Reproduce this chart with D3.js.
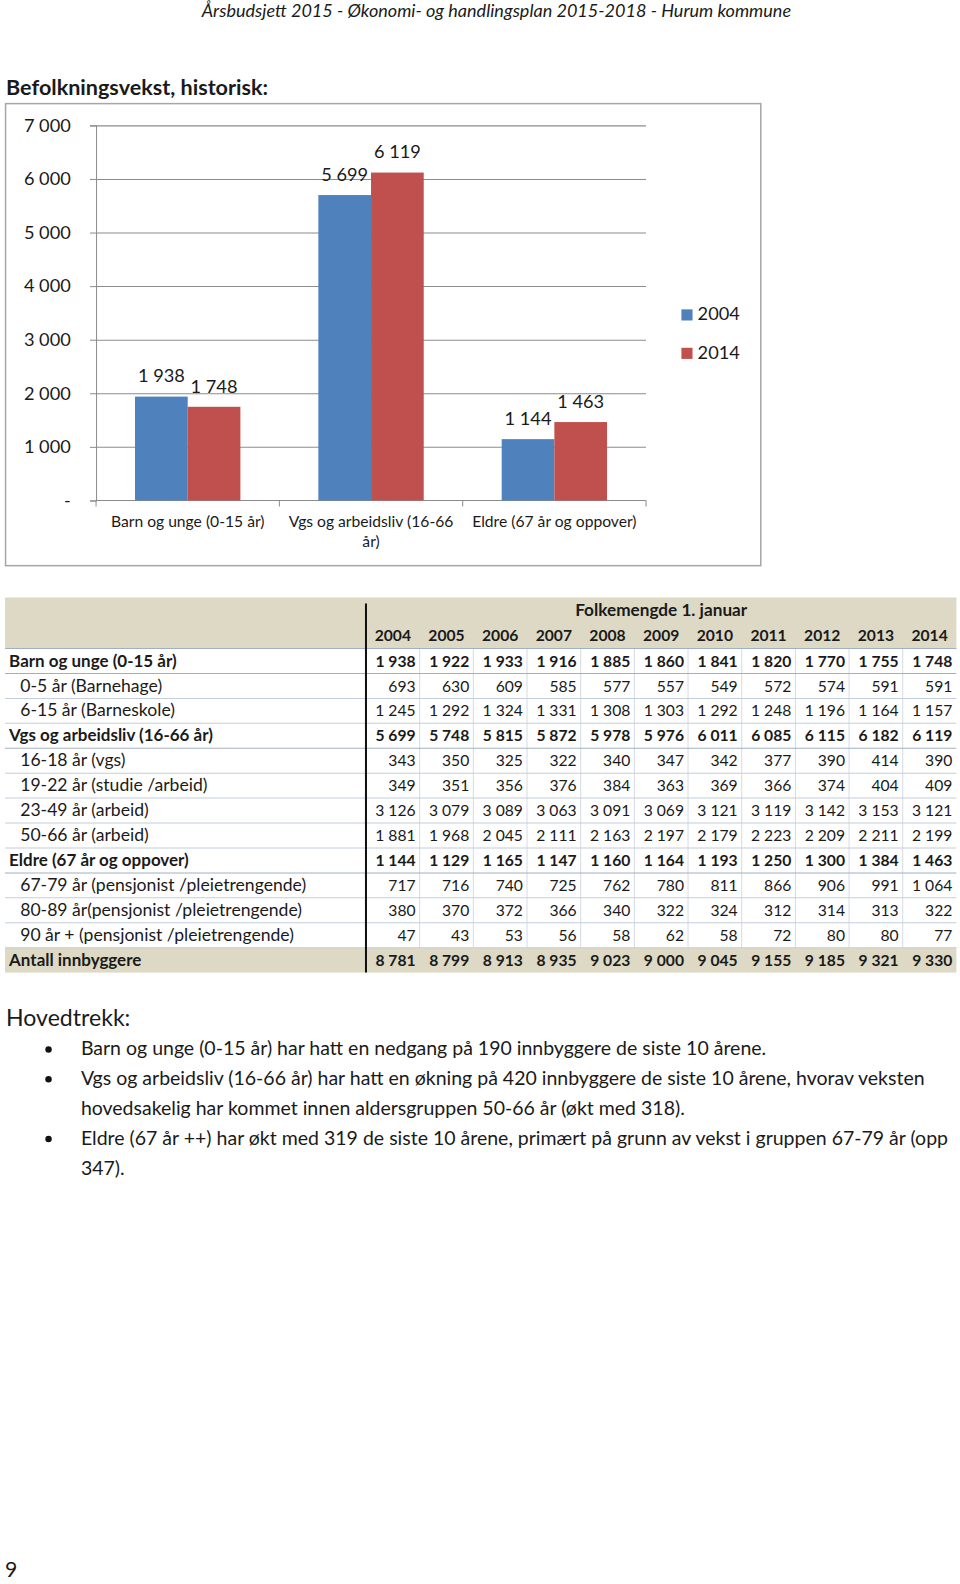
<!DOCTYPE html>
<html>
<head>
<meta charset="utf-8">
<script src="https://cdn.jsdelivr.net/npm/d3@7"></script>
<style>
  body { margin: 0; background: #fff; }
  svg text { font-family: Lato, "Open Sans", sans-serif; fill: #1a1a1a; }
</style>
</head>
<body>
<div id="page"></div>
<script>
// chart data
const categories = ["Barn og unge (0-15 år)", "Vgs og arbeidsliv (16-66 år)", "Eldre (67 år og oppover)"];
const seriesNames = ["2004", "2014"];
const values2004 = [1938, 5699, 1144];
const values2014 = [1748, 6119, 1463];
const yTicks = [0, 1000, 2000, 3000, 4000, 5000, 6000, 7000];

// table data
const tableYears = [2004, 2005, 2006, 2007, 2008, 2009, 2010, 2011, 2012, 2013, 2014];
const rowLabels = [
  "Barn og unge (0-15 år)", "0-5 år (Barnehage)", "6-15 år (Barneskole)",
  "Vgs og arbeidsliv (16-66 år)", "16-18 år (vgs)", "19-22 år (studie /arbeid)",
  "23-49 år (arbeid)", "50-66 år (arbeid)", "Eldre (67 år og oppover)",
  "67-79 år (pensjonist /pleietrengende)", "80-89 år(pensjonist /pleietrengende)",
  "90 år + (pensjonist /pleietrengende)", "Antall innbyggere"
];
const boldRows = [0, 3, 8, 12];
const barnUnge = [1938, 1922, 1933, 1916, 1885, 1860, 1841, 1820, 1770, 1755, 1748];
const age0to5 = [693, 630, 609, 585, 577, 557, 549, 572, 574, 591, 591];
const age6to15 = [1245, 1292, 1324, 1331, 1308, 1303, 1292, 1248, 1196, 1164, 1157];
const vgsArbeid = [5699, 5748, 5815, 5872, 5978, 5976, 6011, 6085, 6115, 6182, 6119];
const age16to18 = [343, 350, 325, 322, 340, 347, 342, 377, 390, 414, 390];
const age19to22 = [349, 351, 356, 376, 384, 363, 369, 366, 374, 404, 409];
const age23to49 = [3126, 3079, 3089, 3063, 3091, 3069, 3121, 3119, 3142, 3153, 3121];
const age50to66 = [1881, 1968, 2045, 2111, 2163, 2197, 2179, 2223, 2209, 2211, 2199];
const eldre = [1144, 1129, 1165, 1147, 1160, 1164, 1193, 1250, 1300, 1384, 1463];
const age67to79 = [717, 716, 740, 725, 762, 780, 811, 866, 906, 991, 1064];
const age80to89 = [380, 370, 372, 366, 340, 322, 324, 312, 314, 313, 322];
const age90plus = [47, 43, 53, 56, 58, 62, 58, 72, 80, 80, 77];
const antall = [8781, 8799, 8913, 8935, 9023, 9000, 9045, 9155, 9185, 9321, 9330];

// text
const headerText = "Årsbudsjett 2015 - Økonomi- og handlingsplan 2015-2018 - Hurum kommune";
const titleText = "Befolkningsvekst, historisk:";
const bullets = [
  ["Barn og unge (0-15 år) har hatt en nedgang på 190 innbyggere de siste 10 årene."],
  ["Vgs og arbeidsliv (16-66 år) har hatt en økning på 420 innbyggere de siste 10 årene, hvorav veksten",
   "hovedsakelig har kommet innen aldersgruppen 50-66 år (økt med 318)."],
  ["Eldre (67 år ++) har økt med 319 de siste 10 årene, primært på grunn av vekst i gruppen 67-79 år (opp",
   "347)."]
];

const tableValues = [barnUnge, age0to5, age6to15, vgsArbeid, age16to18, age19to22,
  age23to49, age50to66, eldre, age67to79, age80to89, age90plus, antall];

const fmt = d3.formatLocale({ decimal: ",", thousands: "\u00a0", grouping: [3], currency: ["", ""] }).format(",d");
const blue = "#4f81bd", red = "#c0504d", beige = "#ddd9c4";

// page is laid out on a slightly smaller grid, then scaled to the window
let svg = d3.select("#page").append("svg")
  .attr("width", 960).attr("height", 1584)
  .append("g")
  .attr("transform", "scale(1.011)");

// shrink/grow a text's font size until it covers the given width
function fitWidth(sel, target) {
  let w = sel.node().getComputedTextLength();
  let fs = parseFloat(sel.attr("font-size"));
  sel.attr("font-size", (fs * target / w).toFixed(2));
}

// page header + title
let hdr = svg.append("text").attr("x", 491).attr("y", 17).attr("text-anchor", "middle")
  .attr("font-size", 17).attr("font-style", "italic").text(headerText);
fitWidth(hdr, 583);

let ttl = svg.append("text").attr("x", 6).attr("y", 94)
  .attr("font-size", 19).attr("font-weight", "bold").text(titleText);
fitWidth(ttl, 259);

// ---------- bar chart ----------
let chart = svg.append("g");
chart.append("rect")
  .attr("x", 5.5).attr("y", 102.5).attr("width", 747).attr("height", 457)
  .attr("fill", "#fff").attr("stroke", "#a6a6a6").attr("stroke-width", 1.5);

let plot = { left: 95, right: 639, top: 124, bottom: 495 };

let yScale = d3.scaleLinear().domain([0, 7000]).range([plot.bottom, plot.top]);
let x0 = d3.scaleBand().domain(categories).range([plot.left, plot.right]).padding(0);
let x1 = d3.scaleBand().domain(seriesNames).range([0, x0.bandwidth()])
  .paddingInner(0).paddingOuter(0.74);

// gridlines
chart.append("g")
  .attr("transform", `translate(${plot.left},0)`)
  .call(d3.axisLeft(yScale).tickValues(yTicks.slice(1)).tickSize(-(plot.right - plot.left)).tickFormat(""))
  .call((g) => g.select(".domain").remove())
  .selectAll("line").attr("stroke", "#8c8c8c");

// y axis with tick labels
let yAxis = chart.append("g")
  .attr("transform", `translate(${plot.left},0)`)
  .call(d3.axisLeft(yScale).tickValues(yTicks).tickSize(6).tickPadding(19)
    .tickFormat((d) => (d === 0 ? "-" : fmt(d))));
yAxis.select(".domain").attr("stroke", "#8c8c8c");
yAxis.selectAll("line").attr("stroke", "#8c8c8c");
yAxis.selectAll("text").attr("font-size", 18).attr("fill", "#1a1a1a")
  .style("font-family", "Lato, 'Open Sans', sans-serif");

// x axis baseline + boundary ticks
chart.append("line")
  .attr("x1", plot.left).attr("x2", plot.right)
  .attr("y1", plot.bottom).attr("y2", plot.bottom).attr("stroke", "#8c8c8c");
chart.selectAll(".cat-tick")
  .data(categories.map((c) => x0(c)).concat([plot.right]))
  .enter().append("line")
  .attr("x1", (d) => d).attr("x2", (d) => d)
  .attr("y1", plot.bottom).attr("y2", plot.bottom + 6).attr("stroke", "#8c8c8c");

// category labels, wrapped like Excel
let catLabels = chart.selectAll(".cat")
  .data(categories).enter().append("text")
  .attr("x", (d) => x0(d) + x0.bandwidth() / 2)
  .attr("y", 521).attr("text-anchor", "middle").attr("font-size", 15.5);
catLabels.each(function (d) {
  let el = d3.select(this);
  let words = d.split(" ");
  let line = [];
  let tspan = el.append("tspan").attr("x", el.attr("x")).attr("dy", 0);
  words.forEach((w) => {
    line.push(w);
    tspan.text(line.join(" "));
    if (tspan.node().getComputedTextLength() > 172 && line.length > 1) {
      line.pop();
      tspan.text(line.join(" "));
      line = [w];
      tspan = el.append("tspan").attr("x", el.attr("x")).attr("dy", 20).text(w);
    }
  });
});

// bars
let groups = chart.selectAll(".grp")
  .data(categories.map((c, i) => ({ cat: c, vals: [values2004[i], values2014[i]] })))
  .enter().append("g")
  .attr("transform", (d) => `translate(${x0(d.cat)},0)`);

groups.selectAll("rect")
  .data((d) => d.vals.map((v, j) => ({ key: seriesNames[j], v: v })))
  .enter().append("rect")
  .attr("x", (d) => x1(d.key))
  .attr("y", (d) => yScale(d.v))
  .attr("width", x1.bandwidth())
  .attr("height", (d) => plot.bottom - yScale(d.v))
  .attr("fill", (d) => (d.key === "2004" ? blue : red));

groups.selectAll(".lbl")
  .data((d) => d.vals.map((v, j) => ({ key: seriesNames[j], v: v })))
  .enter().append("text")
  .attr("x", (d) => x1(d.key) + x1.bandwidth() / 2)
  .attr("y", (d) => yScale(d.v) - 14)
  .attr("text-anchor", "middle").attr("font-size", 18)
  .text((d) => fmt(d.v));

// legend
let legend = chart.selectAll(".leg")
  .data(seriesNames).enter().append("g")
  .attr("transform", (d, i) => `translate(674,${306 + i * 38})`);
legend.append("rect").attr("width", 11).attr("height", 11)
  .attr("fill", (d) => (d === "2004" ? blue : red));
legend.append("text").attr("x", 16).attr("y", 11).attr("font-size", 18).text((d) => d);

// ---------- table ----------
let table = svg.append("g");
let tLeft = 5, tRight = 946, tTop = 591;
let xCol = d3.scaleBand().domain(tableYears).range([362, tRight]);
let yRow = d3.scaleBand().domain(d3.range(rowLabels.length)).range([641.5, 962]);

table.append("rect").attr("x", tLeft).attr("y", tTop)
  .attr("width", tRight - tLeft).attr("height", yRow(0) - tTop).attr("fill", beige);
table.append("rect").attr("x", tLeft).attr("y", yRow(12))
  .attr("width", tRight - tLeft).attr("height", yRow.bandwidth()).attr("fill", beige);

// vertical cell lines
table.selectAll(".vline")
  .data(tableYears.slice(1)).enter().append("line")
  .attr("x1", (d) => xCol(d)).attr("x2", (d) => xCol(d))
  .attr("y1", yRow(0)).attr("y2", yRow(12))
  .attr("stroke", "#d5dbe5");

// horizontal row lines
table.selectAll(".hline")
  .data(d3.range(rowLabels.length)).enter().append("line")
  .attr("x1", tLeft).attr("x2", tRight)
  .attr("y1", (d) => yRow(d)).attr("y2", (d) => yRow(d))
  .attr("stroke", (d) => (boldRows.includes(d - 1) || d === 0 ? "#9fb0c6" : "#c3cedc"));

// thick divider after the label column
table.append("line")
  .attr("x1", 362).attr("x2", 362).attr("y1", 597).attr("y2", 962)
  .attr("stroke", "#111").attr("stroke-width", 2);

table.append("text")
  .attr("x", (362 + tRight) / 2).attr("y", 609.5)
  .attr("text-anchor", "middle").attr("font-size", 17).attr("font-weight", "bold")
  .attr("fill", "#3a3a3a").text("Folkemengde 1. januar");

table.selectAll(".yr")
  .data(tableYears).enter().append("text")
  .attr("x", (d) => xCol(d) + xCol.bandwidth() / 2).attr("y", 634.5)
  .attr("text-anchor", "middle").attr("font-size", 15.5).attr("font-weight", "bold")
  .attr("fill", "#3a3a3a").text((d) => d);

let rows = table.selectAll(".row")
  .data(rowLabels).enter().append("g")
  .attr("transform", (d, i) => `translate(0,${yRow(i) + yRow.bandwidth() / 2 + 5.5})`);

rows.append("text")
  .attr("x", (d, i) => (boldRows.includes(i) ? 9 : 20))
  .attr("font-size", (d, i) => (boldRows.includes(i) ? 16.8 : 17.4))
  .attr("font-weight", (d, i) => (boldRows.includes(i) ? "bold" : "normal"))
  .attr("fill", "#2a2a2a")
  .text((d) => d);

rows.each(function (d, i) {
  d3.select(this).selectAll(".num")
    .data(tableValues[i]).enter().append("text")
    .attr("x", (v, j) => xCol(tableYears[j]) + xCol.bandwidth() - 4)
    .attr("text-anchor", "end").attr("font-size", 15.5)
    .attr("font-weight", boldRows.includes(i) ? "bold" : "normal")
    .attr("fill", "#2a2a2a")
    .text((v) => fmt(v));
});

// ---------- summary text ----------
let hov = svg.append("text").attr("x", 6).attr("y", 1015).attr("font-size", 21).text("Hovedtrekk:");
fitWidth(hov, 123);

let lineY = 1044;
let probe = svg.append("text").attr("font-size", 18).text(bullets[1][0]);
fitWidth(probe, 834);
let bodySize = probe.attr("font-size");
probe.remove();

bullets.forEach((lines) => {
  svg.append("circle").attr("cx", 48).attr("cy", lineY - 6).attr("r", 3.2).attr("fill", "#111");
  lines.forEach((t) => {
    svg.append("text").attr("x", 80).attr("y", lineY).attr("font-size", bodySize).text(t);
    lineY += 29.5;
  });
});

svg.append("text").attr("x", 5).attr("y", 1560).attr("font-size", 21).text("9");
</script>
</body>
</html>
